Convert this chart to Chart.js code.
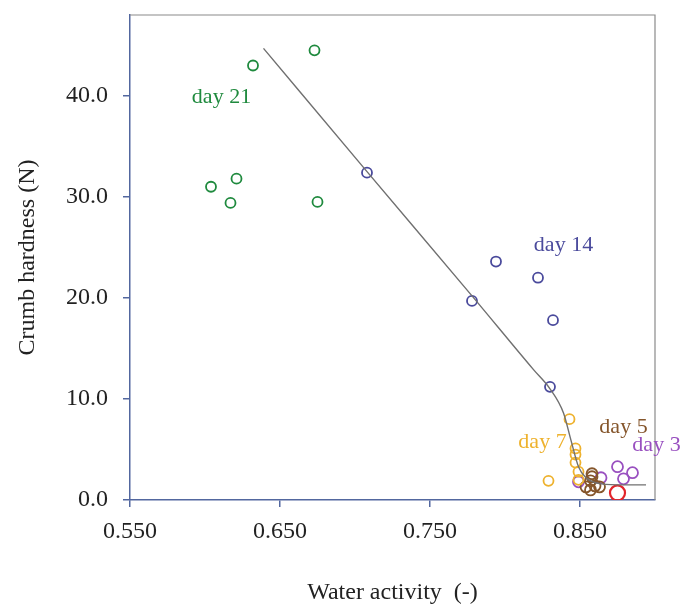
<!DOCTYPE html>
<html>
<head>
<meta charset="utf-8">
<script src="https://cdn.jsdelivr.net/npm/chart.js@4/dist/chart.umd.min.js"></script>
<style>
  body { margin: 0; background: #fff; }
  #wrap { width: 688px; height: 611px; }
</style>
</head>
<body>
<div id="wrap"><canvas id="chart" width="688" height="611"></canvas></div>
<script>
// tick labels
const xTicks = [0.55, 0.65, 0.75, 0.85];
const yTicks = [0, 10, 20, 30, 40];

// measurements per storage day: [water activity, hardness]
const day21 = [[0.632, 43.0], [0.673, 44.5], [0.604, 31.0], [0.621, 31.8], [0.617, 29.4], [0.675, 29.5]];
const day14 = [[0.708, 32.4], [0.778, 19.7], [0.794, 23.6], [0.822, 22.0], [0.832, 17.8], [0.830, 11.2]];
const day7 = [[0.843, 8.0], [0.847, 5.1], [0.847, 4.5], [0.847, 3.7], [0.849, 2.8], [0.849, 2.0], [0.829, 1.9]];
const day5 = [[0.858, 2.6], [0.858, 2.3], [0.857, 1.9], [0.860, 1.4], [0.854, 1.3], [0.863, 1.3], [0.857, 1.0]];
const day3 = [[0.875, 3.3], [0.885, 2.7], [0.879, 2.1], [0.864, 2.2], [0.849, 1.8]];
const fresh = [[0.875, 0.7]];

// fitted curve
const fitX = [0.639, 0.708, 0.778, 0.819, 0.830, 0.839, 0.844, 0.849, 0.854, 0.864, 0.880, 0.894];
const fitY = [44.7, 32.5, 20.2, 12.9, 11.0, 8.6, 5.9, 3.3, 2.2, 1.6, 1.5, 1.5];

// group labels: [text, x, y, colour]
const groupLabels = [
  ["day 21", 0.611, 39.9, "#1f8a3e"],
  ["day 14", 0.839, 25.2, "#4a4a9c"],
  ["day 7", 0.825, 5.7, "#eeb22e"],
  ["day 5", 0.879, 7.2, "#85562c"],
  ["day 3", 0.901, 5.4, "#9950c0"]
];

const serif = "'Liberation Serif', 'Times New Roman', serif";
const axisBlue = "#52679f";

const toPts = arr => arr.map(p => ({ x: p[0], y: p[1] }));

function ring(label, data, color, r, w) {
  return {
    label, data: toPts(data), borderColor: color, backgroundColor: "rgba(0,0,0,0)",
    pointRadius: r, pointHoverRadius: r, pointBorderWidth: w || 1.8, showLine: false
  };
}

const framePlugin = {
  id: "frame",
  afterDraw(chart) {
    const { ctx, chartArea: a, scales } = chart;
    ctx.save();
    ctx.strokeStyle = "#8a8a8a";
    ctx.lineWidth = 1.2;
    ctx.beginPath();
    ctx.moveTo(a.left, a.top);
    ctx.lineTo(a.right, a.top);
    ctx.lineTo(a.right, a.bottom);
    ctx.stroke();
    ctx.font = "22px " + serif;
    ctx.textAlign = "center";
    ctx.textBaseline = "middle";
    groupLabels.forEach(([t, x, y, c]) => {
      ctx.fillStyle = c;
      ctx.fillText(t, scales.x.getPixelForValue(x), scales.y.getPixelForValue(y));
    });
    ctx.restore();
  }
};

new Chart(document.getElementById("chart"), {
  type: "scatter",
  data: {
    datasets: [
      {
        label: "fit", data: fitX.map((x, i) => ({ x, y: fitY[i] })), showLine: true,
        borderColor: "#707070", borderWidth: 1.4, pointRadius: 0, cubicInterpolationMode: "monotone", fill: false
      },
      ring("day 21", day21, "#1f8a3e", 5),
      ring("day 14", day14, "#4a4a9c", 5),
      ring("day 7", day7, "#eeb22e", 5),
      ring("day 5", day5, "#85562c", 5.5),
      ring("day 3", day3, "#9950c0", 5.5),
      ring("day 0", fresh, "#e2252b", 7.5, 2.2)
    ]
  },
  options: {
    responsive: false,
    animation: false,
    layout: { padding: { left: 0, top: 15, right: 33, bottom: 0 } },
    plugins: { legend: { display: false }, tooltip: { enabled: false } },
    scales: {
      x: {
        min: 0.55, max: 0.90,
        afterFit: s => { s.height = 111; s.paddingLeft = 0; s.paddingRight = 0; },
        afterBuildTicks: s => { s.ticks = xTicks.map(v => ({ value: v })); },
        border: { color: axisBlue, width: 1.5 },
        grid: { drawOnChartArea: false, tickLength: 7, color: axisBlue, lineWidth: 1.5 },
        ticks: { padding: 10, color: "#222", font: { family: serif, size: 24 }, callback: v => v.toFixed(3) },
        title: { display: true, text: "Water activity  (-)", color: "#222", font: { family: serif, size: 24 }, padding: { top: 0, bottom: 4 } }
      },
      y: {
        min: 0, max: 48,
        afterFit: s => { s.width = 130; s.paddingTop = 0; s.paddingBottom = 0; },
        afterBuildTicks: s => { s.ticks = yTicks.map(v => ({ value: v })); },
        border: { color: axisBlue, width: 1.5 },
        grid: { drawOnChartArea: false, tickLength: 7, color: axisBlue, lineWidth: 1.5 },
        ticks: { padding: 15, color: "#222", font: { family: serif, size: 24 }, callback: v => v.toFixed(1) },
        title: { display: true, text: "Crumb hardness (N)", color: "#222", font: { family: serif, size: 24 }, padding: { top: 13, bottom: 0 } }
      }
    }
  },
  plugins: [framePlugin]
});
</script>
</body>
</html>
